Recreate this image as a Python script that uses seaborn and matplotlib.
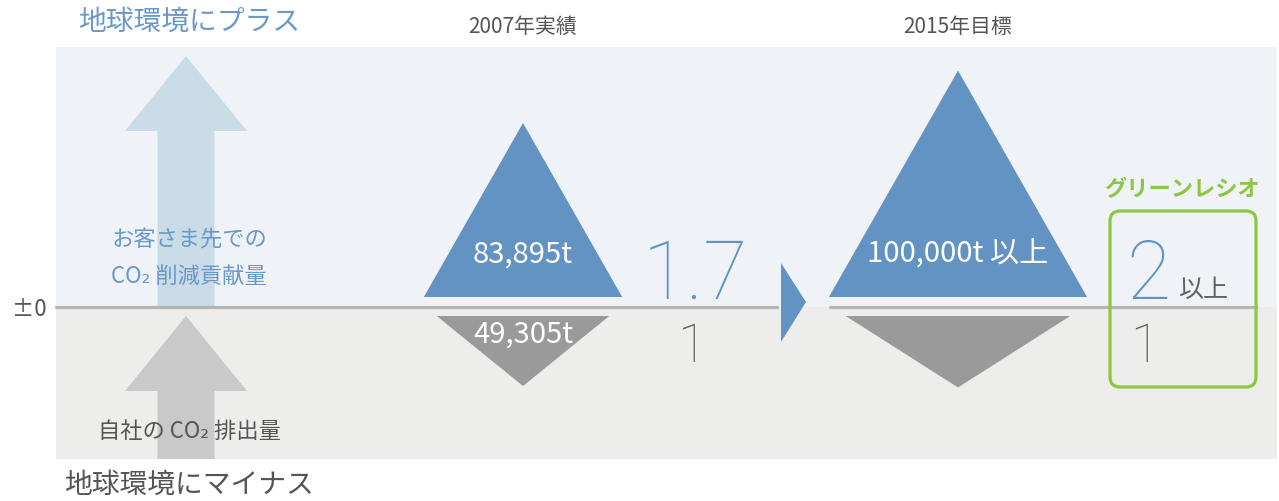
import matplotlib
matplotlib.use("Agg")
import matplotlib.pyplot as plt
from matplotlib.patches import FancyBboxPatch
import seaborn as sns

sns.set_theme(style="white")
plt.rcParams['font.family'] = ['Noto Sans CJK JP', 'DejaVu Sans']

# @@ Data
years = ["2007年実績", "2015年目標"]
contribution = [83895, 100000]          # CO2 reduction at customers (t)
emission = [49305, 50000]               # own CO2 emission (t)
contribution_labels = ["83,895t", "100,000t 以上"]
emission_labels = ["49,305t", ""]
ratio_labels = ["1.7", "2"]
ratio_suffix = ["", "以上"]
# @@

# colours
BLUE = "#6393c3"
BAND_UP = "#eff3f8"
BAND_DOWN = "#ededec"
LINE = "#b5b5b5"
ARROW_BLUE = "#c9dbe6"
ARROW_GRAY = "#c9c9c9"
TRI_GRAY = "#9a9a9a"
TEXT_BLUE = "#6a98c8"
DARK = "#555555"
GREEN = "#8dc63f"
THIN = ['Roboto', 'Noto Sans CJK JP']

# layout (pixel-like units, baseline at y=0)
col_x = [523, 958]
ratio_x = [695, 1148]


def up_height(v):
    # triangles grow with the value (power scale fitted to the chart)
    return 174 * (v / contribution[0]) ** 1.5


def down_depth(v):
    return 70 * (v / emission[0]) ** 1.5


fig = plt.figure(figsize=(12.79, 5.02), dpi=100)
ax = fig.add_axes([0, 0, 1, 1])
ax.set_xlim(0, 1279)
ax.set_ylim(-194, 308)
ax.axis("off")

# background bands
ax.fill_between([56, 1277], 0, 260, color=BAND_UP, lw=0, zorder=0)
ax.fill_between([56, 1277], -152, 0, color=BAND_DOWN, lw=0, zorder=0)

# baseline (interrupted at the middle arrow)
ax.plot([56, 777], [0, 0], color=LINE, lw=2.3, zorder=2)
ax.plot([830, 1256], [0, 0], color=LINE, lw=2.3, zorder=2)


def block_arrow(x, y0, y1, head_len, head_w, shaft_w, color):
    ax.fill([x - shaft_w / 2, x + shaft_w / 2, x + shaft_w / 2, x + head_w / 2,
             x, x - head_w / 2, x - shaft_w / 2],
            [y0, y0, y1 - head_len, y1 - head_len, y1, y1 - head_len, y1 - head_len],
            color=color, lw=0, zorder=1)


# left explanatory arrows
block_arrow(186, 1, 251, 75, 122, 57, ARROW_BLUE)
block_arrow(186, -152, -9, 75, 122, 57, ARROW_GRAY)

ax.text(189, 286, "地球環境にプラス", color=TEXT_BLUE, fontsize=20, ha="center", va="center")
ax.text(189, 68, "お客さま先での", color=TEXT_BLUE, fontsize=16, ha="center", va="center", zorder=3)
ax.text(189, 32, "CO₂ 削減貢献量", color=TEXT_BLUE, fontsize=16, ha="center", va="center", zorder=3)
ax.text(12, -2, "±0", color=DARK, fontsize=16, ha="left", va="center")
ax.text(189, -124, "自社の CO₂ 排出量", color=DARK, fontsize=16, ha="center", va="center", zorder=3)
ax.text(189, -177, "地球環境にマイナス", color=DARK, fontsize=20, ha="center", va="center")

# triangles per year
for i, year in enumerate(years):
    x = col_x[i]
    h = up_height(contribution[i])
    half = 0.57 * h
    ax.fill([x - half, x + half, x], [10, 10, 10 + h], color=BLUE, lw=0, zorder=3)
    d = down_depth(emission[i])
    dhalf = 0.87 * half
    ax.fill([x - dhalf, x + dhalf, x], [-9, -9, -9 - d], color=TRI_GRAY, lw=0, zorder=3)

    ax.text(x, 281, year, color=DARK, fontsize=15, ha="center", va="center")
    ax.text(x, 53, contribution_labels[i], color="white", fontsize=21, ha="center", va="center", zorder=4)
    if emission_labels[i]:
        ax.text(x, -27, emission_labels[i], color="white", fontsize=21, ha="center", va="center", zorder=4)

    # ratio
    ax.text(ratio_x[i], 9, ratio_labels[i], color=BLUE, fontsize=58, family=THIN,
            fontweight="light", ha="center", va="baseline", zorder=4)
    ax.text(ratio_x[i] - 3, -54, "1", color="#606060", fontsize=38, family=THIN,
            fontweight="light", ha="center", va="baseline", zorder=4)
    if ratio_suffix[i]:
        ax.text(1178, 11, ratio_suffix[i], color="#606060", fontsize=18, ha="left", va="baseline", zorder=4)

# middle arrow between the two years
ax.fill([781, 781, 806], [44, -35, 5], color=BLUE, lw=0, zorder=3)

# green ratio box
box = FancyBboxPatch((1110, -80), 146, 176, boxstyle="round,pad=0,rounding_size=10",
                     fill=False, ec=GREEN, lw=2.3, zorder=5)
ax.add_patch(box)
ax.text(1182, 118, "グリーンレシオ", color=GREEN, fontsize=16, fontweight="bold",
        ha="center", va="center")

sns.despine(left=True, bottom=True)
fig.savefig("out.png", dpi=100)
